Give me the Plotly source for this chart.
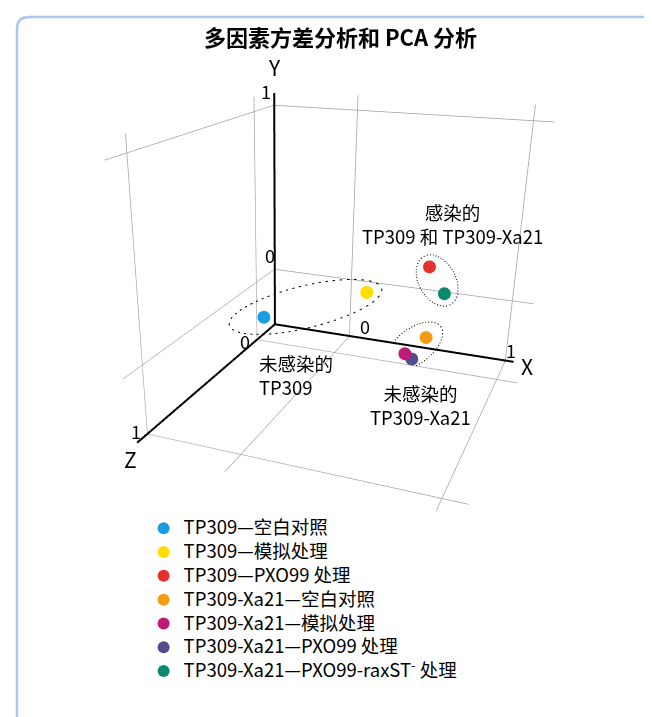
import numpy as np
import plotly.graph_objects as go

# PCA scores
names = ["TP309—空白对照", "TP309—模拟处理", "TP309—PXO99 处理",
         "TP309-Xa21—空白对照", "TP309-Xa21—模拟处理", "TP309-Xa21—PXO99 处理",
         "TP309-Xa21—PXO99-raxST<sup>-</sup> 处理"]
colors = ["#1a9de0", "#ffdd00", "#e5322a", "#f29b13", "#c01a79", "#544d8d", "#0c8a6d"]
pc_x = [-0.41, 0.257, 0.532, 0.683, 0.633, 0.664, 0.67]
pc_y = [-0.152, 0.112, 0.20, 0.022, 0.014, -0.02, 0.117]
pc_z = [0.116, 0.16, -0.075, 0.38, 0.55, 0.53, 0.06]

groups = [[0, 1], [2, 6], [3, 4, 5]]
group_labels = ["未感染的<br>TP309", "感染的<br>TP309 和 TP309-Xa21", "未感染的<br>TP309-Xa21"]

x_rng = [-0.53, 1.12]
y_rng = [-0.375, 1.08]
z_rng = [-0.21, 1.13]
aspect = dict(x=0.767, y=0.70, z=0.846)
move = np.array([-0.1565, -0.2505, 0.0608])
eye = dict(x=0.773 + move[0], y=0.902 + move[1], z=1.822 + move[2])
center = dict(x=move[0], y=move[1], z=move[2])

FONT = "Noto Sans CJK SC, sans-serif"

fig = go.Figure()

for i in range(len(names)):
    fig.add_trace(go.Scatter3d(
        x=[pc_x[i]], y=[pc_y[i]], z=[pc_z[i]], mode="markers",
        name="<span style='font-size:18.5px'>" + names[i] + "</span>",
        marker=dict(size=7.5, color=colors[i], line=dict(width=0)),
        hoverinfo="skip"))

# dashed ellipses around groups, built from the group points
def to_world(p):
    return np.array([(p[0] - np.mean(x_rng)) / (x_rng[1] - x_rng[0]) * aspect["x"],
                     (p[1] - np.mean(y_rng)) / (y_rng[1] - y_rng[0]) * aspect["y"],
                     (p[2] - np.mean(z_rng)) / (z_rng[1] - z_rng[0]) * aspect["z"]])

def from_world(w):
    return np.array([w[0] / aspect["x"] * (x_rng[1] - x_rng[0]) + np.mean(x_rng),
                     w[1] / aspect["y"] * (y_rng[1] - y_rng[0]) + np.mean(y_rng),
                     w[2] / aspect["z"] * (z_rng[1] - z_rng[0]) + np.mean(z_rng)])

E = np.array([eye["x"], eye["y"], eye["z"]])
t = np.linspace(0, 2 * np.pi, 90)
for g, pad, half, off in zip(groups, [0.085, 0.045, 0.08], [0.058, 0.048, 0.042], [-0.04, 0, 0]):
    pts = [to_world((pc_x[i], pc_y[i], pc_z[i])) for i in g]
    p0, p1 = pts[0], pts[1]
    c = (p0 + p1) / 2
    u = p1 - p0
    L = np.linalg.norm(u) / 2 + pad
    u = u / np.linalg.norm(u)
    v = np.cross(u, E - c)
    v = v / np.linalg.norm(v)
    c = c + off * u
    ring = np.array([c + L * np.cos(k) * u + half * np.sin(k) * v for k in t])
    # slide the ring toward the eye (same picture) so it stays inside the box
    ring = E + (ring - E) * 0.8
    ring = np.array([from_world(w) for w in ring])
    fig.add_trace(go.Scatter3d(x=ring[:, 0], y=ring[:, 1], z=ring[:, 2], mode="lines",
                               line=dict(color="black", width=2, dash="dash"),
                               showlegend=False, hoverinfo="skip"))

# thick axes from the corner
ox, oy, oz = x_rng[0] + 0.006, y_rng[0] + 0.006, z_rng[0] + 0.006
for ax in [([ox, 1.05], [oy, oy], [oz, oz]), ([ox, ox], [oy, 1.07], [oz, oz]), ([ox, ox], [oy, oy], [oz, 1.08])]:
    fig.add_trace(go.Scatter3d(x=ax[0], y=ax[1], z=ax[2], mode="lines",
                               line=dict(color="black", width=4),
                               showlegend=False, hoverinfo="skip"))

axis_style = dict(tickvals=[0, 1], showticklabels=False, showgrid=True, gridcolor="#a0a0a0",
                  gridwidth=1.5, showline=False, zeroline=False, showbackground=False,
                  showspikes=False, title=dict(text=""))

def ann(x, y, z, text, xs=0, ys=0, size=18, align="center", xanchor="center"):
    return dict(x=x, y=y, z=z, text=text, showarrow=False, xshift=xs, yshift=ys,
                font=dict(size=size, color="black", family=FONT), align=align, xanchor=xanchor)

annots = [
    ann(ox, 1, oz, "1", -8, 14), ann(ox, 0, oz, "0", -5, 15),
    ann(0, oy, oz, "0", 16, 10), ann(1, oy, oz, "1", 6, 11),
    ann(ox, oy, 0, "0", -13, -2), ann(ox, oy, 1, "1", -12, 2),
    ann(1.05, oy, oz, "X", 14, -4, 21), ann(ox, 1.07, oz, "Y", 0, 26, 21),
    ann(ox, oy, 1.08, "Z", -7, -16, 21),
]
label_pos = [(ox, oy, oz, -18, -51, "left"), (0.66, 0.16, -0.05, 4, 54, "center"),
             (0.82, -0.02, 0.45, -26, -49, "center")]
for lbl, (x, y, z, xs, ys, al) in zip(group_labels, label_pos):
    annots.append(ann(x, y, z, lbl, xs, ys, 18.5, al, "left" if al == "left" else "center"))

fig.update_layout(
    width=652, height=717, margin=dict(l=0, r=0, t=0, b=0),
    paper_bgcolor="white", font=dict(family=FONT, size=18, color="black"),
    title=dict(text="<b>多因素方差分析和 PCA 分析</b>", x=0.51, y=0.958, xanchor="center",
               yanchor="middle", font=dict(size=22, family=FONT)),
    scene=dict(domain=dict(x=[0.0, 0.837], y=[0.0, 1.0]),
               xaxis=dict(range=x_rng, **axis_style),
               yaxis=dict(range=y_rng, **axis_style),
               zaxis=dict(range=z_rng, **axis_style),
               aspectmode="manual", aspectratio=aspect,
               camera=dict(eye=eye, up=dict(x=0, y=1, z=0), center=center),
               annotations=annots),
    legend=dict(x=0.208, y=0.298, yanchor="top", font=dict(size=16, family=FONT),
                itemsizing="constant", tracegroupgap=0),
    shapes=[dict(type="path", xref="paper", yref="paper",
                 path="M 0.0138,0 L 0.0138,0.971 Q 0.0138,0.9874 0.033,0.9874 L 1.0,0.9874",
                 line=dict(color="#a9c8ec", width=2.5))],
)
fig.write_html("out.html")
